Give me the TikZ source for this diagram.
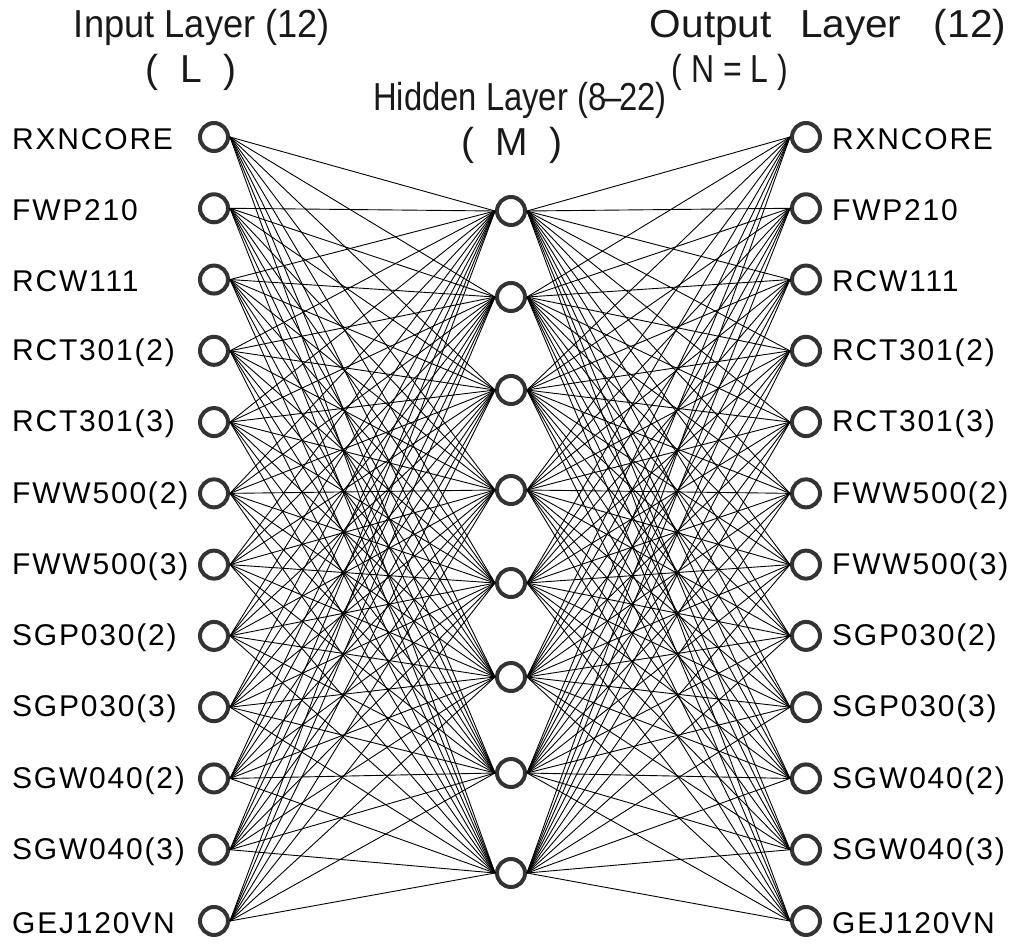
\documentclass[tikz,border=0pt]{standalone}
\usepackage{fontspec}
\setmainfont{Liberation Sans}
\newfontfamily\labfont[LetterSpace=6]{Liberation Sans}
\newfontfamily\titfont{Liberation Sans}
\begin{document}
\begin{tikzpicture}[x=1pt,y=-1pt,
  neuron/.style={circle, draw=black!80, line width=4pt, fill=white, minimum size=28pt, inner sep=0pt},
  link/.style={line width=0.9pt, black},
  lab/.style={font=\labfont\fontsize{30}{30}\selectfont, inner sep=0pt},
  title/.style={font=\titfont\fontsize{39}{39}\selectfont, inner sep=0pt, text=black!90}]
\useasboundingbox (0,0) rectangle (1022,943);
% titles
\node[title] (tin) at (202,27) {\scalebox{0.93}[1]{Input Layer\ (12)}};
\node[title] (tinL) at (191,72) {(\ \ L\ \ )};
\node[title] (thid) at (520,100) {\scalebox{0.84}[1]{Hidden Layer\ (8\kern-0.08em–\kern-0.08em22)}};
\node[title] (thidM) at (512,145) {(\ \ M\ \ )};
\node[title] (tout) at (828,27) {\scalebox{1.04}[1]{Output\hspace{0.7em}Layer\hspace{0.8em}(12)}};
\node[title] (toutN) at (730,72) {\scalebox{0.82}[1]{(\ N = L\ )}};
% input and output layers
\foreach [count=\k] \n in {RXNCORE,FWP210,RCW111,RCT301(2),RCT301(3),FWW500(2),FWW500(3),SGP030(2),SGP030(3),SGW040(2),SGW040(3),GEJ120VN}{
  \node[neuron] (i\k) at (214,{137+(\k-1)*71.27}) {};
  \node[lab, anchor=west] (li\k) at (12,{139+(\k-1)*71.27}) {\n};
  \node[neuron] (o\k) at (806,{137+(\k-1)*71.27}) {};
  \node[lab, anchor=west] (lo\k) at (832,{139+(\k-1)*71.27}) {\n};
}
% hidden layer
\foreach \y [count=\j] in {211,297,390,490,583,677,773,873}{
  \node[neuron] (h\j) at (511,\y) {};
}
% connections
\foreach \k in {1,...,12}{
  \foreach \j in {1,...,8}{
    \draw[link] (i\k.east) -- (h\j.west);
    \draw[link] (h\j.east) -- (o\k.west);
  }
}
\end{tikzpicture}
\end{document}
